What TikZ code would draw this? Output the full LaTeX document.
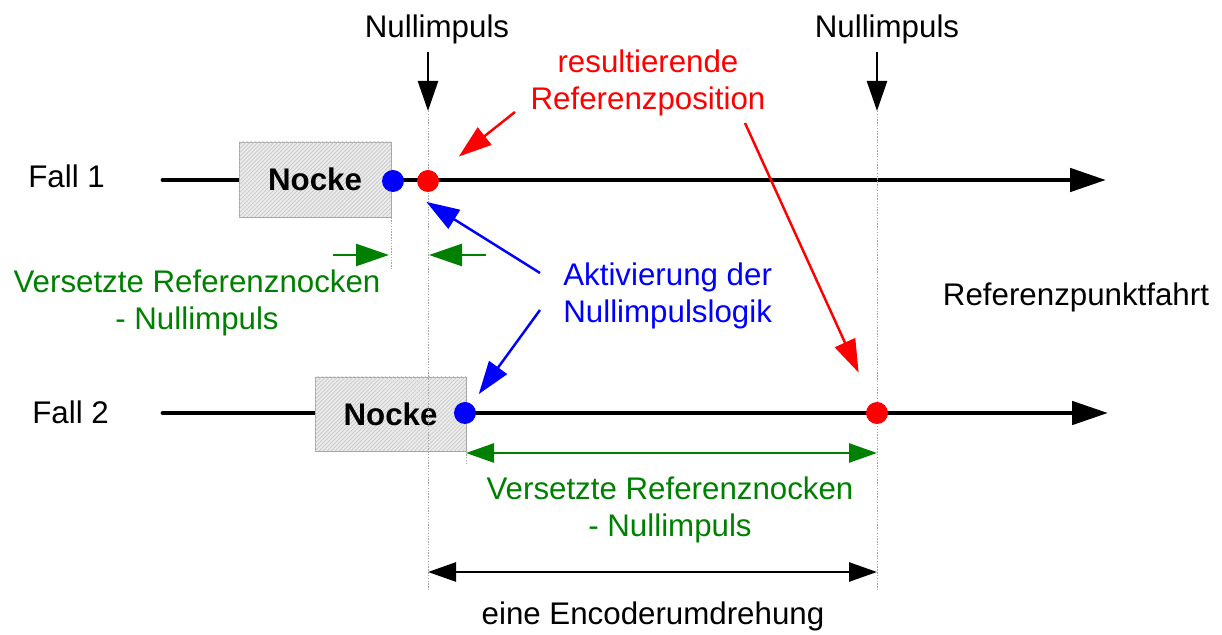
\documentclass[tikz,border=0pt]{standalone}
\usepackage{fontspec}
\setmainfont{Liberation Sans}
\usepackage{tikz}
\usetikzlibrary{arrows.meta,positioning,calc,patterns.meta}
\definecolor{vgreen}{RGB}{0,128,0}
\tikzset{
  >=Triangle,
  every node/.append style={font=\fontsize{17.8}{21.6}\selectfont, inner sep=0pt},
}
\tikzset{
  axis/.style={line width=2.8pt, line cap=round, -{Triangle[length=7.2mm,width=4.6mm]}},
  cam/.style={draw=gray!70, line width=0.5pt, fill=gray!15,
    postaction={pattern={Lines[angle=45,distance=1.6pt,line width=0.4pt]}, pattern color=gray!45},
    minimum width=30.4mm, minimum height=15mm, font=\fontsize{17.8}{21.6}\selectfont\bfseries},
  dot/.style={circle, minimum size=4.4mm, inner sep=0pt},
  guide/.style={gray!70, line width=0.4pt, dash pattern=on 0.8pt off 0.8pt},
  drop/.style={line width=1.4pt, -{Triangle[length=6mm,width=4mm]}},
  ptr/.style={line width=1.4pt, -{Triangle[length=6.6mm,width=4.4mm]}},
  span/.style={line width=1.5pt, {Triangle[length=5.6mm,width=3.8mm]}-{Triangle[length=5.6mm,width=3.8mm]}}
}
\begin{document}
\begin{tikzpicture}[x=0.2mm, y=-0.2mm]
\useasboundingbox (0,0) rectangle (1222,635);

% Achsen
\coordinate (startA) at (163,180);
\coordinate (endA) at (1106,180);
\coordinate (startB) at (163,413);
\coordinate (endB) at (1108,413);
\draw[axis] (startA) -- (endA);
\draw[axis] (startB) -- (endB);

% Nocken
\node[cam] (nockeA) at (315,179.5) {Nocke};
\node[cam, minimum width=30.2mm, minimum height=14.8mm] (nockeB) at (390.5,414) {Nocke};

% Hilfslinien
\coordinate (tipA) at (428,111);
\coordinate (tipB) at (877,111);
\coordinate (botA) at (428,590);
\coordinate (botB) at (877,590);
\draw[guide] (tipA) -- (botA);
\draw[guide] (tipB) -- (botB);
\draw[guide] (nockeA.south east) -- ++(0,53);
\draw[guide] (nockeB.south east) -- ++(0,12);

% Punkte
\node[dot, fill=blue] (blueA) at (393,181) {};
\node[dot, fill=red] (redA) at (428,181) {};
\node[dot, fill=blue] (blueB) at (465,413) {};
\node[dot, fill=red] (redB) at (877,413) {};

% Beschriftung
\node[anchor=base west] (fallA) at (28,188) {Fall 1};
\node[anchor=base west] (fallB) at (32,424) {Fall 2};
\node[anchor=base] (nullA) at (437,38) {Nullimpuls};
\node[anchor=base] (nullB) at (887,38) {Nullimpuls};
\node[anchor=base, align=center, red] (resPos) at (648,110) {resultierende\\Referenzposition};
\node[anchor=base west, align=left, blue] (aktiv) at (563,323) {Aktivierung der\\Nullimpulslogik};
\node[anchor=base, align=center, vgreen] (versA) at (197,330) {Versetzte Referenznocken\\- Nullimpuls};
\node[anchor=base, align=center, vgreen] (versB) at (670,537) {Versetzte Referenznocken\\- Nullimpuls};
\node[anchor=base] (refFahrt) at (1076,306) {Referenzpunktfahrt};
\node[anchor=base] (encRev) at (653,625) {eine Encoderumdrehung};

% Nullimpuls
\draw[drop] ($(nullA.south -| tipA)+(0,7)$) -- (tipA);
\draw[drop] ($(nullB.south -| tipB)+(0,7)$) -- (tipB);

% Zeiger
\coordinate (resStartA) at (515,112);
\coordinate (resStartB) at (745,123);
\coordinate (aktStartA) at (540,273);
\coordinate (aktStartB) at (540,310);
\draw[ptr, red, shorten >=5.6mm] (resStartA) -- (redA);
\draw[ptr, red, shorten >=6.6mm] (resStartB) -- (redB);
\draw[ptr, blue, shorten >=5.6mm] (aktStartA) -- (blueA);
\draw[ptr, blue, shorten >=2.4mm] (aktStartB) -- (blueB);

% Versatz
\coordinate (gA1) at (333,255);
\coordinate (gA2) at (389,255);
\coordinate (gB1) at (486,255);
\coordinate (gB2) at (429,255);
\draw[ptr, vgreen, line width=1.5pt] (gA1) -- (gA2);
\draw[ptr, vgreen, line width=1.5pt] (gB1) -- (gB2);
\coordinate (gL) at (466,453);
\coordinate (gR) at (877,453);
\draw[span, vgreen] (gL) -- (gR);
\coordinate (encL) at (428,572);
\coordinate (encR) at (877,572);
\draw[span] (encL) -- (encR);

\end{tikzpicture}
\end{document}
